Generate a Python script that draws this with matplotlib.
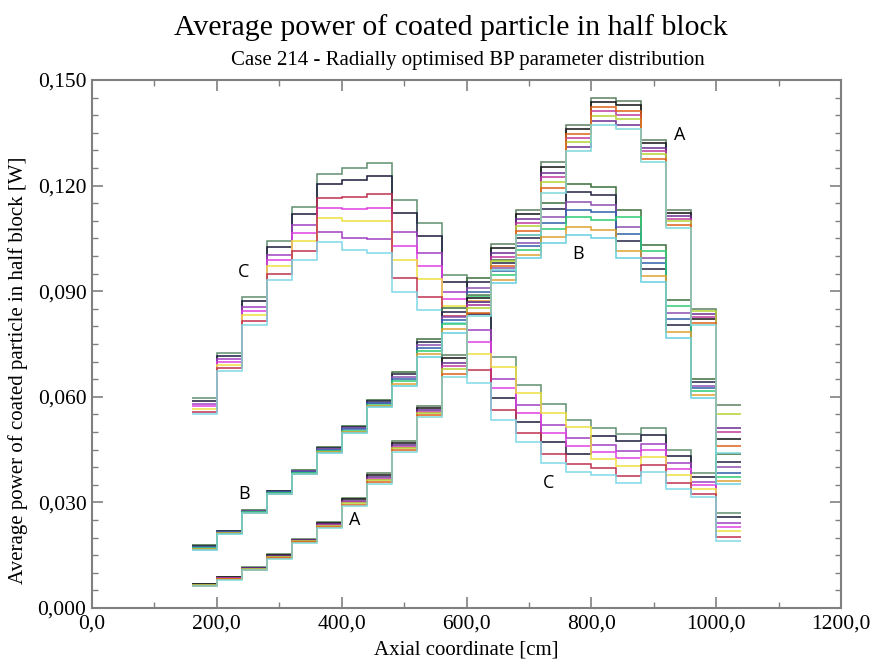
import matplotlib.pyplot as plt
from matplotlib.ticker import MultipleLocator, FuncFormatter

# Bin edges of the axial zones [cm]
axial_edges = [160, 200, 240, 280, 320, 360, 400, 440, 480, 520, 560,
               600, 640, 680, 720, 760, 800, 840, 880, 920, 960, 1000, 1040]

# Group A - power peaking at the bottom of the core
a_lines = [
    [.0068, .0088, .0116, .0153, .0196, .0244, .0312, .0383, .0474, .0574, .0719, .0890, .1034, .1130, .1267, .1372, .1450, .1440, .1330, .1130, .0850, .0577],
    [.0067, .0087, .0115, .0151, .0194, .0241, .0309, .0378, .0469, .0569, .0710, .0881, .1023, .1120, .1254, .1361, .1438, .1428, .1321, .1123, .0820, .0480],
    [.0066, .0085, .0113, .0148, .0192, .0238, .0304, .0372, .0463, .0563, .0697, .0869, .1008, .1105, .1237, .1309, .1384, .1372, .1308, .1113, .0834, .0511],
    [.0065, .0084, .0112, .0146, .0190, .0235, .0301, .0367, .0458, .0558, .0687, .0860, .0997, .1095, .1224, .1335, .1411, .1400, .1299, .1105, .0827, .0500],
    [.0064, .0083, .0111, .0144, .0189, .0233, .0298, .0363, .0454, .0554, .0678, .0851, .0986, .1085, .1210, .1324, .1399, .1388, .1289, .1098, .0843, .0551],
    [.0063, .0081, .0109, .0141, .0187, .0230, .0293, .0357, .0448, .0548, .0666, .0839, .0971, .1070, .1193, .1346, .1423, .1412, .1276, .1088, .0811, .0460],
    [.0062, .0080, .0108, .0139, .0185, .0227, .0290, .0352, .0443, .0543, .0656, .0830, .0960, .1060, .1180, .1298, .1372, .1360, .1267, .1080, .0804, .0440],
]

# Group B - flatter profile
b_lines = [
    [.0178, .0220, .0277, .0333, .0392, .0458, .0518, .0590, .0670, .0765, .0852, .0937, .0990, .1060, .1150, .1204, .1196, .1130, .1031, .0875, .0650, .0437],
    [.0176, .0218, .0276, .0332, .0390, .0455, .0515, .0587, .0664, .0757, .0841, .0925, .0980, .1050, .1133, .1182, .1174, .1042, .0963, .0805, .0642, .0415],
    [.0174, .0217, .0275, .0330, .0388, .0452, .0511, .0583, .0656, .0747, .0827, .0910, .0967, .1037, .1110, .1153, .1145, .1082, .0994, .0837, .0631, .0400],
    [.0172, .0215, .0274, .0329, .0386, .0449, .0508, .0581, .0650, .0739, .0817, .0899, .0957, .1027, .1094, .1132, .1124, .1062, .0979, .0821, .0624, .0384],
    [.0170, .0213, .0273, .0327, .0384, .0446, .0504, .0578, .0644, .0731, .0806, .0887, .0946, .1017, .1077, .1110, .1102, .1110, .1015, .0859, .0616, .0373],
    [.0167, .0212, .0271, .0325, .0382, .0443, .0500, .0574, .0636, .0721, .0792, .0872, .0933, .1004, .1054, .1082, .1073, .1014, .0942, .0783, .0605, .0360],
    [.0165, .0210, .0270, .0324, .0380, .0440, .0497, .0571, .0630, .0713, .0781, .0860, .0923, .0994, .1037, .1060, .1051, .0994, .0926, .0767, .0597, .0352],
]

# Group C - power peaking at the top of the core
c_lines = [
    [.0596, .0724, .0884, .1043, .1140, .1233, .1250, .1265, .1160, .1095, .0946, .0870, .0713, .0634, .0580, .0535, .0510, .0495, .0510, .0450, .0383, .0270],
    [.0589, .0716, .0872, .1026, .1118, .1204, .1215, .1227, .1121, .1058, .0926, .0836, .0597, .0529, .0471, .0438, .0490, .0474, .0491, .0433, .0373, .0258],
    [.0580, .0706, .0856, .1004, .1088, .1069, .1052, .1047, .1068, .1008, .0899, .0790, .0651, .0578, .0521, .0483, .0463, .0446, .0467, .0411, .0359, .0242],
    [.0573, .0699, .0844, .0988, .1065, .1137, .1134, .1137, .1029, .0971, .0878, .0755, .0624, .0553, .0496, .0461, .0444, .0425, .0448, .0394, .0349, .0230],
    [.0566, .0691, .0832, .0971, .1043, .1108, .1099, .1099, .0990, .0934, .0858, .0721, .0686, .0610, .0555, .0513, .0424, .0404, .0429, .0377, .0339, .0218],
    [.0557, .0681, .0816, .0949, .1013, .1165, .1168, .1175, .0937, .0884, .0830, .0675, .0562, .0496, .0437, .0408, .0397, .0376, .0405, .0355, .0325, .0202],
    [.0550, .0673, .0804, .0932, .0990, .1040, .1017, .1009, .0898, .0847, .0810, .0640, .0535, .0472, .0412, .0386, .0377, .0355, .0386, .0338, .0315, .0190],
]

a_colors = ['#5e8060', '#111111', '#6a2c91', '#c0399e', '#b5d334', '#e0601a', '#7fd9d9']
b_colors = ['#3c6e3c', '#222244', '#8a4fb0', '#2f5fa8', '#2ecc71', '#e0a030', '#66d0e0']
c_colors = ['#5f8f6f', '#1a1a3a', '#a040c0', '#e040e0', '#eee040', '#c03050', '#80d8e8']

# Curve labels: (text, x, y)
curve_labels = [('A', 942, 0.1345), ('B', 779, 0.1005), ('C', 243, 0.0955),
                ('B', 244, 0.0325), ('A', 421, 0.0250), ('C', 732, 0.0355)]

fig = plt.figure(figsize=(8.72, 6.61), dpi=100)
ax = fig.add_axes([0.1055, 0.0802, 0.859, 0.7988])

for lines, colors in [(c_lines, c_colors), (b_lines, b_colors), (a_lines, a_colors)]:
    for vals, col in zip(lines, colors):
        ax.stairs(vals, axial_edges, baseline=None, color=col, linewidth=1.1)

for txt, x, y in curve_labels:
    ax.text(x, y, txt, fontsize=13, family='Open Sans', ha='center', va='center')

ax.set_xlim(0, 1200)
ax.set_ylim(0, 0.150)

# Ticks inside on all four sides, comma as decimal mark
ax.xaxis.set_major_locator(MultipleLocator(200))
ax.xaxis.set_minor_locator(MultipleLocator(100))
ax.yaxis.set_major_locator(MultipleLocator(0.03))
ax.yaxis.set_minor_locator(MultipleLocator(0.005))
ax.xaxis.set_major_formatter(FuncFormatter(lambda v, p: f'{v:.1f}'.replace('.', ',')))
ax.yaxis.set_major_formatter(FuncFormatter(lambda v, p: f'{v:.3f}'.replace('.', ',')))
ax.tick_params(which='both', direction='in', top=True, right=True, color='#808080')
ax.tick_params(which='major', length=8, width=1.2, labelsize=15.5, pad=4)
ax.tick_params(which='minor', length=4, width=1.0)
ax.tick_params(axis='x', which='major', pad=5)
for lab in ax.get_xticklabels() + ax.get_yticklabels():
    lab.set_family('Liberation Serif')
for sp in ax.spines.values():
    sp.set_color('#808080')
    sp.set_linewidth(1.5)

ax.set_xlabel('Axial coordinate [cm]', family='Liberation Serif', fontsize=15, labelpad=5)
ax.set_ylabel('Average power of coated particle in half block [W]', family='Liberation Serif',
              fontsize=15)
ax.yaxis.set_label_coords(-0.086, 0.45)

fig.text(0.517, 0.958, 'Average power of coated particle in half block', family='Liberation Serif',
         fontsize=21.5, ha='center', va='center')
fig.text(0.537, 0.909, 'Case 214 - Radially optimised BP parameter distribution', family='Liberation Serif',
         fontsize=15, ha='center', va='center')

fig.savefig('out.png', dpi=100)
